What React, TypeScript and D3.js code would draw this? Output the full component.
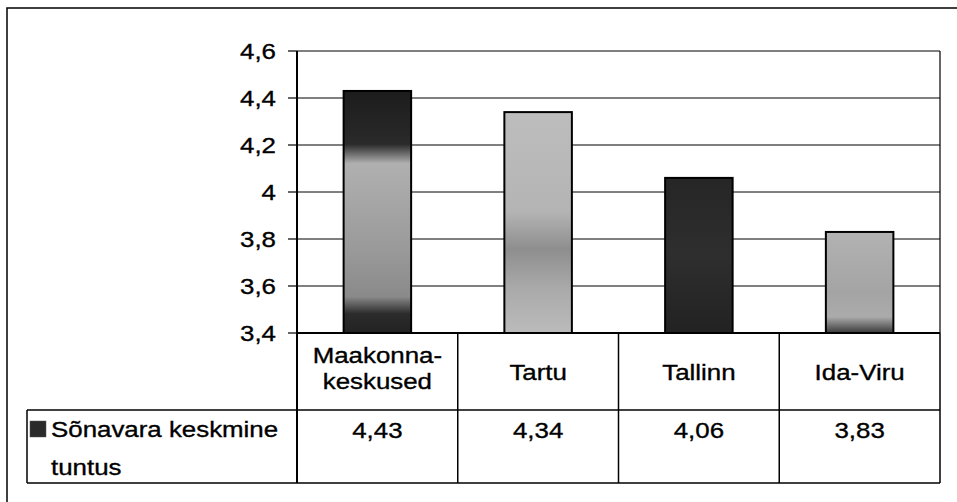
import React from 'react';
import * as d3 from 'd3';

const categories = [['Maakonna-', 'keskused'], ['Tartu'], ['Tallinn'], ['Ida-Viru']];
const values = [4.43, 4.34, 4.06, 3.83];
const valueLabels = ['4,43', '4,34', '4,06', '3,83'];
const yTicks = [3.4, 3.6, 3.8, 4.0, 4.2, 4.4, 4.6];
const seriesName = ['Sõnavara keskmine', 'tuntus'];

// scanned bars had a mottled grey/black look; gradients stand in for it
const barStops: [number, string][][] = [
  [[0, '#1c1c1c'], [0.22, '#2a2a2a'], [0.3, '#b0b0b0'], [0.65, '#9a9a9a'], [0.85, '#8a8a8a'], [0.92, '#2c2c2c'], [1, '#222']],
  [[0, '#bdbdbd'], [0.45, '#b4b4b4'], [0.62, '#8e8e8e'], [0.8, '#aaaaaa'], [1, '#bbbbbb']],
  [[0, '#262626'], [0.5, '#2e2e2e'], [1, '#222']],
  [[0, '#b2b2b2'], [0.6, '#a4a4a4'], [0.84, '#ababab'], [1, '#3a3a3a']],
];

const W = 957;
const H = 502;
const plot = { left: 297, right: 940, top: 51, bottom: 333 };
const rowMid = 410;
const rowEnd = 483;
const legendLeft = 27;
const font = '"Liberation Sans", Arial, sans-serif';
const sx = 1.15; // the scan is stretched sideways

const Txt: React.FC<{ x: number; y: number; anchor?: string; children: React.ReactNode }> = ({ x, y, anchor = 'middle', children }) => (
  <text transform={`translate(${x},${y}) scale(${sx},1)`} textAnchor={anchor} fontFamily={font} fontSize={22.5}
    fill="#000" stroke="#000" strokeWidth={0.35}>
    {children}
  </text>
);

export default function App() {
  const x = d3.scaleBand<number>().domain(d3.range(categories.length)).range([plot.left, plot.right]).padding(0);
  const y = d3.scaleLinear().domain([3.4, 4.6]).range([plot.bottom, plot.top]);
  const barW = x.bandwidth() * 0.42;

  return (
    <svg width={W} height={H} style={{ position: 'absolute', left: 0, top: 0, background: '#fff' }}>
      <defs>
        {barStops.map((stops, i) => (
          <linearGradient key={i} id={`bar${i}`} x1="0" y1="0" x2="0" y2="1">
            {stops.map(([o, c], j) => (
              <stop key={j} offset={o} stopColor={c} />
            ))}
          </linearGradient>
        ))}
      </defs>

      {/* outer frame, runs off the picture to the right and bottom */}
      <rect x={7} y={8} width={W + 20} height={H + 20} fill="none" stroke="#000" strokeWidth={1.5} />

      {/* gridlines */}
      {yTicks.map(t => (
        <line key={t} x1={plot.left} x2={plot.right} y1={y(t)} y2={y(t)} stroke="#000" strokeWidth={1} />
      ))}
      <line x1={plot.right} x2={plot.right} y1={plot.top} y2={plot.bottom} stroke="#000" strokeWidth={1.2} />

      {/* bars */}
      {values.map((v, i) => {
        const cx = (x(i) as number) + x.bandwidth() / 2;
        return (
          <rect key={i} x={cx - barW / 2} y={y(v)} width={barW} height={y(3.4) - y(v)}
            fill={`url(#bar${i})`} stroke="#000" strokeWidth={2} />
        );
      })}

      {/* y axis */}
      <line x1={plot.left} x2={plot.left} y1={plot.top} y2={rowEnd} stroke="#000" strokeWidth={2} />
      {yTicks.map(t => (
        <g key={t}>
          <line x1={plot.left - 9} x2={plot.left} y1={y(t)} y2={y(t)} stroke="#000" strokeWidth={1.2} />
          <Txt x={276} y={y(t) + 8} anchor="end">{d3.format('.1f')(t).replace('.0', '').replace('.', ',')}</Txt>
        </g>
      ))}
      <line x1={plot.left} x2={plot.right} y1={plot.bottom} y2={plot.bottom} stroke="#000" strokeWidth={2} />

      {/* data table */}
      <line x1={legendLeft} x2={plot.right} y1={rowMid} y2={rowMid} stroke="#000" strokeWidth={1.5} />
      <line x1={legendLeft} x2={plot.right} y1={rowEnd} y2={rowEnd} stroke="#000" strokeWidth={1.5} />
      <line x1={legendLeft} x2={legendLeft} y1={rowMid} y2={rowEnd} stroke="#000" strokeWidth={1.5} />
      {categories.map((_, i) => (
        <line key={i} x1={(x(i) as number) + x.bandwidth()} x2={(x(i) as number) + x.bandwidth()}
          y1={plot.bottom} y2={rowEnd} stroke="#000" strokeWidth={1.5} />
      ))}
      {categories.map((lines, i) => {
        const cx = (x(i) as number) + x.bandwidth() / 2;
        if (lines.length === 1) return <Txt key={i} x={cx} y={380}>{lines[0]}</Txt>;
        return (
          <g key={i}>
            {lines.map((l, j) => <Txt key={j} x={cx} y={363 + j * 26}>{l}</Txt>)}
          </g>
        );
      })}
      {valueLabels.map((l, i) => (
        <Txt key={i} x={(x(i) as number) + x.bandwidth() / 2} y={438}>{l}</Txt>
      ))}

      {/* legend key */}
      <rect x={30} y={421} width={16} height={16} fill="#2a2a2a" stroke="#555" strokeWidth={0.5} />
      <Txt x={51} y={437} anchor="start">{seriesName[0]}</Txt>
      <Txt x={51} y={475} anchor="start">{seriesName[1]}</Txt>
    </svg>
  );
}
